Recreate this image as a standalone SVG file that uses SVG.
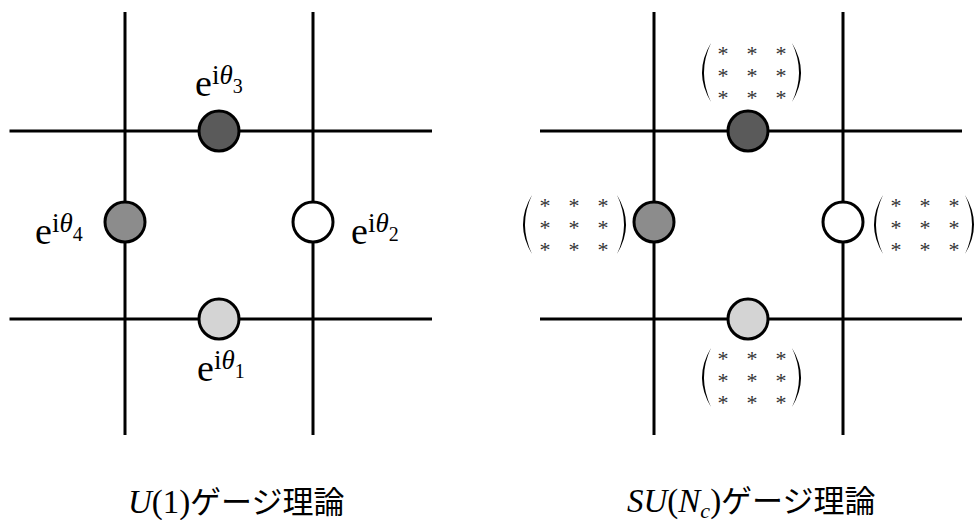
<svg xmlns="http://www.w3.org/2000/svg" width="976" height="520" viewBox="0 0 976 520">
<style>
.ln{stroke:#000;stroke-width:3;fill:none}
.nd{stroke:#000;stroke-width:3}
.t{font-family:'Liberation Serif','Times New Roman','DejaVu Serif',serif;fill:#000}
.it{font-style:italic}
.ast{font-family:'Liberation Serif','DejaVu Serif',serif;font-size:22px;fill:#333;text-anchor:middle}
.cap{font-family:'Liberation Serif','DejaVu Serif',serif;font-size:33px;fill:#000}
.jp{font-family:'Noto Sans CJK JP',sans-serif;font-size:31px;fill:#000}
</style>
<defs>
<path id="lp" d="M9,0 Q-9,29.5 9,59 Q-5,29.5 9,0Z" fill="#000"/>
<path id="rp" d="M0,0 Q18,29.5 0,59 Q14,29.5 0,0Z" fill="#000"/>
<g id="mat">
<text class="ast" x="0" y="11">*</text><text class="ast" x="29" y="11">*</text><text class="ast" x="58" y="11">*</text>
<text class="ast" x="0" y="33">*</text><text class="ast" x="29" y="33">*</text><text class="ast" x="58" y="33">*</text>
<text class="ast" x="0" y="55">*</text><text class="ast" x="29" y="55">*</text><text class="ast" x="58" y="55">*</text>
</g>
</defs>
<rect width="976" height="520" fill="#fff"/>
<g id="connectors">
<line class="ln" x1="125" y1="12" x2="125" y2="435"/>
<line class="ln" x1="313" y1="12" x2="313" y2="435"/>
<line class="ln" x1="9.5" y1="131" x2="432" y2="131"/>
<line class="ln" x1="9.5" y1="319" x2="432" y2="319"/>
<line class="ln" x1="654" y1="12" x2="654" y2="435"/>
<line class="ln" x1="843" y1="12" x2="843" y2="435"/>
<line class="ln" x1="540" y1="131" x2="962" y2="131"/>
<line class="ln" x1="540" y1="319" x2="962" y2="319"/>
</g>
<g id="u1-top"><circle class="nd" cx="219" cy="131" r="20" fill="#5a5a5a"/>
<text class="t" x="195" y="96" font-size="38">e<tspan font-size="27" dy="-12">i</tspan><tspan class="it" font-size="27">θ</tspan><tspan font-size="20" dy="9">3</tspan></text></g>
<g id="u1-left"><circle class="nd" cx="125" cy="222" r="20" fill="#8c8c8c"/>
<text class="t" x="35" y="244" font-size="38">e<tspan font-size="27" dy="-12">i</tspan><tspan class="it" font-size="27">θ</tspan><tspan font-size="20" dy="9">4</tspan></text></g>
<g id="u1-right"><circle class="nd" cx="313" cy="222" r="20" fill="#fff"/>
<text class="t" x="351" y="244" font-size="38">e<tspan font-size="27" dy="-12">i</tspan><tspan class="it" font-size="27">θ</tspan><tspan font-size="20" dy="9">2</tspan></text></g>
<g id="u1-bottom"><circle class="nd" cx="219" cy="319" r="20" fill="#d4d4d4"/>
<text class="t" x="197" y="381" font-size="38">e<tspan font-size="27" dy="-12">i</tspan><tspan class="it" font-size="27">θ</tspan><tspan font-size="20" dy="9">1</tspan></text></g>
<g id="su-top"><circle class="nd" cx="748" cy="131" r="20" fill="#5a5a5a"/>
<use href="#lp" x="702" y="43"/><use href="#rp" x="792" y="43"/><use href="#mat" x="723" y="50"/></g>
<g id="su-left"><circle class="nd" cx="654" cy="222" r="20" fill="#8c8c8c"/>
<use href="#lp" x="523" y="195"/><use href="#rp" x="617" y="195"/><use href="#mat" x="545" y="202"/></g>
<g id="su-right"><circle class="nd" cx="843" cy="222" r="20" fill="#fff"/>
<use href="#lp" x="874" y="195"/><use href="#rp" x="965" y="195"/><use href="#mat" x="896" y="202"/></g>
<g id="su-bottom"><circle class="nd" cx="748" cy="319" r="20" fill="#d4d4d4"/>
<use href="#lp" x="702" y="348"/><use href="#rp" x="792" y="348"/><use href="#mat" x="723" y="355"/></g>
<g id="captions">
<text class="cap" x="128" y="513"><tspan class="it">U</tspan>(1)</text>
<text class="jp" x="190" y="513">ゲージ理論</text>
<text class="cap" x="627" y="512"><tspan class="it">SU</tspan>(<tspan class="it">N</tspan><tspan class="it" font-size="22" dy="6">c</tspan><tspan dy="-6">)</tspan></text>
<text class="jp" x="721" y="512">ゲージ理論</text>
</g>
</svg>
